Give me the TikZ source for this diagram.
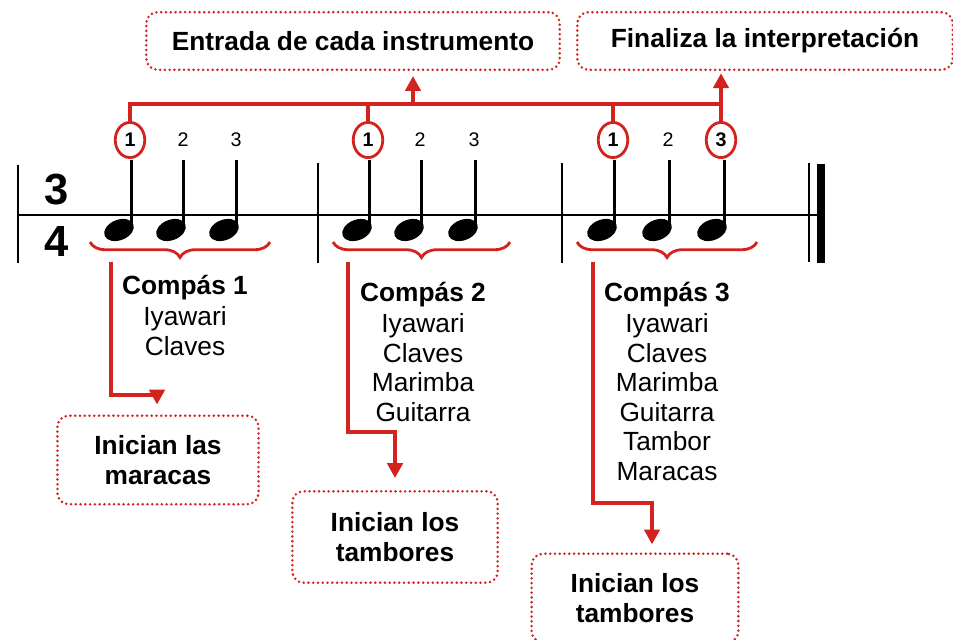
\documentclass[tikz,border=0pt]{standalone}
\usepackage{fontspec}
\setmainfont{Liberation Sans}
\usetikzlibrary{arrows.meta,shapes.geometric,decorations.pathreplacing,calc}
\definecolor{rd}{RGB}{210,35,30}
\tikzset{
    notehead/.style = {ellipse,
                    fill=black,
                    inner sep=0pt,
                    minimum width=22pt,
                    minimum height=14.5pt,
                    rotate=22},
    beat/.style =   {ellipse,
                    draw=rd,
                    fill=white,
                    line width=2pt,
                    inner sep=0pt,
                    minimum width=21pt,
                    minimum height=25pt,
                    font=\fontsize{14}{14}\selectfont\bfseries},
    count/.style =  {inner sep=0pt,
                    font=\fontsize{14}{14}\selectfont},
    timesig/.style = {inner sep=0pt,
                    font=\fontsize{31}{31}\selectfont\bfseries},
    box/.style =    {rectangle,
                    rounded corners=8pt,
                    draw=rd,
                    line width=2pt,
                    dash pattern=on 0pt off 3.4pt,
                    line cap=round,
                    align=center,
                    font=\fontsize{18.7}{21}\selectfont\bfseries},
    list/.style =   {align=center,
                    anchor=north,
                    inner sep=0pt,
                    font=\fontsize{18.7}{21}\selectfont},
    -,
    link/.style =   {draw=rd, line width=2.2pt},
    staff/.style =  {line width=1.9pt},
    stem/.style =   {line width=2.1pt},
    curly/.style =  {draw=rd,
                    line width=2pt,
                    decorate,
                    decoration={brace, mirror, amplitude=11pt}},
    >={Triangle[length=10.5pt,width=11pt]}}

\begin{document}
\begin{tikzpicture}[x=0.025cm, y=-0.025cm]
            \useasboundingbox (0,0) rectangle (953,639);

            % staff and bars
            \draw[staff]    (18,215) -- (818,215);
            \draw[staff]    (18,165) -- (18,263);
            \draw[staff]    (318,163) -- (318,263);
            \draw[staff]    (562,163) -- (562,263);
            \draw[staff]    (809,163) -- (809,262);
            \fill           (817,164) rectangle (825,263);

            \node[timesig]  (t3) at (57,190) {3};
            \node[timesig]  (t4) at (57,241) {4};

            % notes
            \foreach \n/\x in {1/119,2/171,3/224,4/357,5/409,6/463,7/602,8/657,9/712} {
                \node[notehead] (h\n) at (\x,230) {};
                \draw[stem]     ([xshift=-1.4pt]h\n.east) -- ++(0,-64);
            }

            % counts
            \node[beat]     (b1) at (130,140)   {1};
            \node[count]    (c2) at (183,140)   {2};
            \node[count]    (c3) at (236,140)   {3};
            \node[beat]     (b2) at (368,140)   {1};
            \node[count]    (c5) at (420,140)   {2};
            \node[count]    (c6) at (474,140)   {3};
            \node[beat]     (b3) at (613,140)   {1};
            \node[count]    (c8) at (668,140)   {2};
            \node[beat]     (b4) at (721,140)   {3};

            % boxes
            \node[box, minimum width=294pt, minimum height=41pt] (entrada) at (353,41)
                {Entrada de cada instrumento};
            \node[box, minimum width=267pt, minimum height=41pt] (fin) at (765,41)
                {Finaliza la interpretación};
            \node[box, minimum width=143pt, minimum height=63pt] (ini1) at (158,460)
                {Inician las\\maracas};
            \node[box, minimum width=146pt, minimum height=65pt] (ini2) at (395,537)
                {Inician los\\tambores};
            \node[box, minimum width=147pt, minimum height=63pt] (ini3) at (635,598)
                {Inician los\\tambores};

            % lists
            \node[list] (m1) at (185,275)
                {\textbf{Compás 1}\\[1pt] Iyawari\\ Claves};
            \node[list] (m2) at (423,282)
                {\textbf{Compás 2}\\[1pt] Iyawari\\ Claves\\ Marimba\\ Guitarra};
            \node[list] (m3) at (667,282)
                {\textbf{Compás 3}\\[1pt] Iyawari\\ Claves\\ Marimba\\ Guitarra\\ Tambor\\ Maracas};

            % braces
            \draw[curly]    (90,242) -- (270,242);
            \draw[curly]    (333,242) -- (510,242);
            \draw[curly]    (577,242) -- (757,242);

            % red connectors
            \coordinate (top1) at (413,104);
            \draw[link]     (b1.north) |- (b4.north |- top1);
            \draw[link]     (b2.north) -- (b2.north |- top1);
            \draw[link]     (b3.north) -- (b3.north |- top1);
            \draw[link,->,shorten >=3.5pt]  (top1) -- (top1 |- entrada.south);
            \draw[link,->,shorten >=1.5pt]  (b4.north) -- (b4.north |- fin.south);

            \coordinate (s1) at (111,262);
            \coordinate (k1) at (157,395);
            \coordinate (s2) at (348,262);
            \coordinate (k2) at (395,432);
            \coordinate (s3) at (593,262);
            \coordinate (k3) at (652,503);
            \draw[link,->,shorten >=7pt]    (s1) |- (k1) -- (k1 |- ini1.north);
            \draw[link,->,shorten >=8.5pt]  (s2) |- (k2) -- (k2 |- ini2.north);
            \draw[link,->,shorten >=5.7pt]  (s3) |- (k3) -- (k3 |- ini3.north);
\end{tikzpicture}
\end{document}
